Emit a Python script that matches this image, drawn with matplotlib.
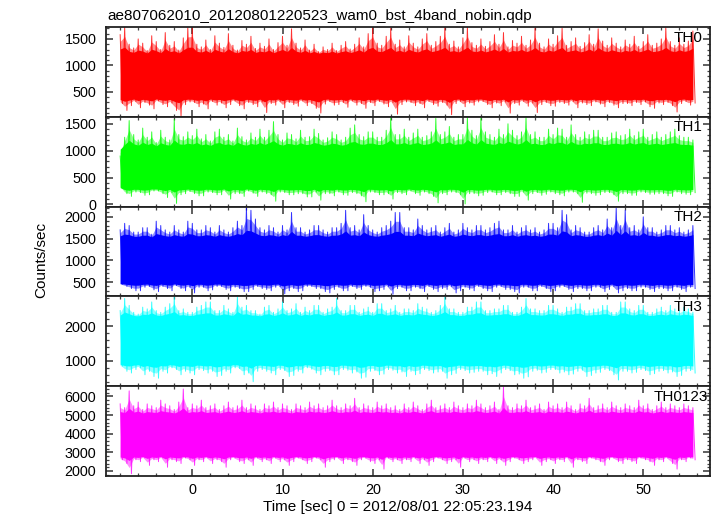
import numpy as np
import matplotlib.pyplot as plt
from matplotlib.ticker import MultipleLocator

plt.rcParams['font.family'] = ['Liberation Sans', 'DejaVu Sans']

title = 'ae807062010_20120801220523_wam0_bst_4band_nobin.qdp'
names = ['TH0', 'TH1', 'TH2', 'TH3', 'TH0123']
colors = ['#ff0000', '#00ff00', '#0000ff', '#00ffff', '#ff00ff']

# half-second bins from -8 to 55.5 sec
t = np.arange(-8, 56, 0.5)

# upper / lower spike tips per half second, and the solid core band (counts/sec)
th0_hi = [1580, 1720, 1400, 1330, 1500, 1420, 1280, 1560, 1450, 1300, 1620, 1380, 1450, 1290, 1520, 1710,
          1720, 1400, 1350, 1480, 1300, 1560, 1420, 1340, 1600, 1380, 1290, 1470, 1400, 1550, 1320, 1420,
          1360, 1500, 1300, 1430, 1550, 1380, 1690, 1420, 1330, 1480, 1290, 1400, 1260, 1350, 1300, 1420,
          1280, 1380, 1450, 1310, 1400, 1520, 1350, 1600, 1710, 1420, 1380, 1550, 1700, 1400, 1480, 1350,
          1560, 1420, 1350, 1500, 1600, 1380, 1450, 1550, 1720, 1400, 1460, 1350, 1520, 1720, 1430, 1380,
          1500, 1360, 1450, 1580, 1400, 1620, 1350, 1470, 1420, 1550, 1380, 1480, 1700, 1420, 1350, 1500,
          1400, 1560, 1700, 1380, 1450, 1520, 1360, 1430, 1580, 1400, 1690, 1460, 1380, 1520, 1420, 1350,
          1480, 1400, 1550, 1360, 1450, 1580, 1380, 1420, 1500, 1710, 1450, 1380, 1520, 1400, 1460, 1650]
th0_lo = [280, 150, 240, 320, 200, 300, 250, 180, 330, 260, 220, 290, 150, 40, 260, 310,
          300, 220, 270, 180, 320, 250, 290, 200, 260, 330, 240, 180, 300, 260, 220, 310,
          110, 280, 250, 320, 200, 300, 260, 230, 330, 240, 280, 190, 100, 270, 320, 250,
          260, 300, 210, 330, 250, 280, 190, 300, 240, 320, 270, 220, 300, 80, 260, 310,
          300, 240, 280, 200, 320, 260, 230, 300, 250, 70, 280, 320, 220, 290, 250, 310,
          320, 260, 200, 290, 240, 310, 100, 280, 250, 320, 230, 290, 110, 260, 300, 240,
          230, 300, 280, 250, 320, 200, 290, 260, 240, 310, 270, 220, 300, 250, 200, 280,
          280, 240, 300, 260, 310, 220, 190, 290, 260, 300, 240, 120, 280, 320, 250, 290]
th0_core = (380, 1220)

th1_hi = [900, 1250, 1560, 1300, 1200, 1420, 1250, 1350, 1150, 1380, 1250, 1200, 1580, 1300, 1260, 1350,
          1280, 1400, 1220, 1300, 1180, 1350, 1400, 1250, 1300, 1180, 1420, 1260, 1200, 1330, 1250, 1400,
          1250, 1380, 1540, 1300, 1200, 1330, 1300, 1220, 1380, 1250, 1260, 1400, 1320, 1200, 1240, 1350,
          1300, 1200, 1250, 1420, 1480, 1300, 1260, 1350, 1350, 1250, 1250, 1380, 1620, 1300, 1300, 1400,
          1250, 1330, 1400, 1250, 1280, 1350, 1600, 1300, 1350, 1450, 1250, 1300, 1300, 1620, 1380, 1280,
          1620, 1350, 1300, 1250, 1400, 1300, 1500, 1380, 1280, 1350, 1620, 1300, 1350, 1250, 1250, 1400,
          1300, 1420, 1400, 1250, 1480, 1300, 1250, 1350, 1300, 1380, 1380, 1250, 1250, 1330, 1350, 1280,
          1300, 1400, 1280, 1350, 1400, 1250, 1300, 1350, 1250, 1300, 1350, 1400, 1280, 1250, 1250, 1200]
th1_lo = [350, 200, 150, 230, 220, 170, 180, 250, 250, 200, 130, 220, 20, 180, 200, 240,
          200, 160, 160, 230, 220, 180, 180, 250, 100, 200, 200, 150, 250, 210, 150, 230,
          200, 180, 60, 230, 220, 180, 180, 200, 200, 140, 140, 230, 80, 200, 200, 160,
          230, 180, 170, 220, 200, 160, 50, 230, 220, 180, 180, 200, 100, 220, 200, 180,
          250, 200, 170, 230, 200, 150, 30, 200, 180, 230, 220, 180, 10, 200, 200, 160,
          170, 220, 230, 180, 180, 220, 200, 150, 150, 230, 80, 200, 220, 170, 190, 230,
          200, 180, 160, 230, 230, 200, 40, 210, 200, 170, 180, 220, 220, 180, 60, 200,
          200, 170, 170, 230, 220, 190, 190, 200, 200, 160, 150, 230, 200, 190, 180, 220]
th1_core = (300, 1070)

th2_hi = [1700, 1850, 1800, 1650, 1650, 1750, 1750, 1600, 1900, 1800, 1700, 1650, 1800, 1700, 1650, 1900,
          1850, 1700, 1700, 1800, 1750, 1650, 1800, 1700, 1650, 1750, 1900, 1800, 2200, 2150, 1950, 1750,
          1700, 1800, 1750, 1650, 1800, 1700, 2100, 1750, 1750, 1650, 1700, 1800, 1800, 1700, 1650, 1750,
          1750, 1850, 2150, 1750, 1800, 1700, 2050, 1800, 1700, 1650, 1750, 1800, 1900, 2100, 2100, 1750,
          1750, 1700, 1950, 1800, 1700, 1750, 1800, 1650, 1750, 1850, 1650, 1700, 1850, 1750, 1700, 1800,
          1800, 1700, 1750, 1850, 1900, 1700, 1700, 1800, 1650, 1750, 1800, 1700, 1750, 1650, 1700, 1850,
          1850, 1750, 2150, 2050, 1700, 1800, 1750, 1650, 1650, 1750, 1800, 1700, 1950, 1750, 2200, 1800,
          2150, 1750, 1800, 1700, 2000, 1750, 1750, 1650, 1700, 1800, 1800, 1700, 1750, 1650, 1700, 1800]
th2_lo = [450, 400, 350, 300, 300, 380, 400, 320, 280, 400, 350, 300, 420, 350, 300, 380,
          250, 380, 380, 300, 320, 400, 400, 330, 300, 380, 350, 280, 280, 330, 400, 350,
          330, 300, 380, 400, 230, 300, 350, 280, 300, 400, 400, 350, 350, 280, 250, 330,
          380, 300, 300, 400, 350, 330, 400, 380, 280, 300, 330, 400, 220, 350, 380, 300,
          300, 380, 350, 280, 400, 330, 280, 350, 330, 400, 250, 300, 380, 330, 300, 400,
          350, 300, 280, 380, 400, 330, 330, 280, 250, 380, 380, 300, 300, 400, 350, 280,
          300, 380, 400, 330, 280, 350, 350, 300, 300, 380, 380, 280, 330, 400, 250, 300,
          350, 300, 300, 380, 380, 330, 280, 350, 350, 300, 300, 380, 330, 280, 380, 350]
th2_core = (470, 1520)

th3_hi = [2450, 2800, 2600, 2400, 2350, 2550, 2500, 2700, 2450, 2400, 2550, 2650, 2850, 2450, 2500, 2400,
          2400, 2550, 2600, 2700, 2700, 2450, 2450, 2600, 2500, 2400, 2850, 2550, 2600, 2450, 2450, 2350,
          2550, 2600, 2400, 2500, 2700, 2450, 2500, 2650, 2400, 2550, 2450, 2600, 2600, 2400, 2500, 2550,
          2800, 2450, 2450, 2600, 2600, 2400, 2500, 2550, 2400, 2650, 2650, 2450, 2500, 2600, 2400, 2500,
          2500, 2450, 2650, 2550, 2500, 2400, 2450, 2600, 2850, 2500, 2500, 2400, 2400, 2550, 2550, 2700,
          2700, 2450, 2450, 2500, 2500, 2600, 2600, 2400, 2400, 2550, 2800, 2500, 2500, 2450, 2450, 2600,
          2600, 2500, 2400, 2550, 2550, 2650, 2650, 2450, 2450, 2500, 2500, 2600, 2600, 2400, 2400, 2700,
          2700, 2500, 2450, 2600, 2600, 2400, 2400, 2500, 2550, 2450, 2600, 2500, 2450, 2550, 2500, 2400]
th3_lo = [850, 700, 650, 750, 800, 600, 700, 550, 500, 700, 650, 800, 750, 600, 700, 650,
          600, 750, 720, 650, 700, 550, 580, 700, 650, 800, 780, 600, 650, 400, 700, 750,
          700, 650, 600, 750, 720, 550, 580, 700, 650, 800, 760, 650, 600, 700, 720, 600,
          600, 750, 730, 650, 680, 500, 530, 700, 720, 600, 620, 750, 730, 650, 680, 550,
          700, 600, 630, 750, 720, 650, 680, 700, 500, 600, 640, 750, 720, 650, 670, 700,
          700, 600, 630, 550, 650, 750, 720, 600, 620, 500, 540, 700, 730, 650, 670, 750,
          750, 650, 680, 600, 620, 700, 730, 550, 580, 650, 670, 750, 720, 600, 450, 700,
          700, 650, 670, 750, 720, 600, 630, 700, 720, 650, 680, 550, 580, 700, 720, 650]
th3_core = (920, 2280)

th0123_hi = [5600, 5400, 6300, 5500, 5700, 5300, 5600, 5500, 5400, 5800, 5600, 5500, 5300, 5700, 6400, 5400,
             5600, 5500, 5800, 5400, 5500, 5600, 5300, 5500, 5700, 5400, 5500, 5800, 5400, 5600, 5500, 5300,
             5600, 5500, 5700, 5400, 5600, 5500, 5300, 5600, 5500, 5400, 5700, 5500, 5600, 5400, 5500, 5800,
             5500, 5400, 5600, 5500, 5900, 5400, 5600, 5500, 5400, 5700, 5500, 5600, 5400, 5500, 5300, 5600,
             5400, 5700, 5500, 5300, 5600, 5800, 5400, 5500, 5600, 5400, 5700, 5500, 5400, 5600, 5500, 5800,
             5600, 5400, 5500, 5700, 5300, 6500, 5500, 5400, 5600, 5500, 5800, 5400, 5500, 5600, 5300, 5700,
             5500, 5600, 5400, 5700, 5500, 5300, 5600, 5500, 5900, 5400, 5500, 5600, 5400, 5700, 5500, 5400,
             5600, 5500, 5400, 5800, 5500, 5600, 5300, 5500, 5700, 5400, 5600, 5500, 5400, 5600, 5500, 5400]
th0123_lo = [2600, 2400, 1850, 2600, 2500, 2700, 2300, 2600, 2500, 2700, 2200, 2600, 2500, 2400, 2700, 2600,
             2300, 2600, 2500, 2700, 2400, 2600, 2500, 2200, 2600, 2700, 2500, 2400, 2600, 2300, 2700, 2500,
             2600, 2400, 2700, 2500, 2600, 2300, 2500, 2700, 2600, 2400, 2500, 2700, 2600, 2200, 2500, 2600,
             2700, 2400, 2600, 2500, 2300, 2600, 2700, 2500, 2400, 2600, 2100, 2700, 2500, 2600, 2400, 2600,
             2500, 2700, 2400, 2600, 2300, 2500, 2700, 2600, 2400, 2500, 2600, 2200, 2700, 2500, 2600, 2400,
             2600, 2500, 2700, 2400, 2600, 2300, 2500, 2700, 2600, 2400, 2500, 2600, 2700, 2300, 2500, 2600,
             2400, 2600, 2500, 2700, 2200, 2600, 2500, 2400, 2700, 2600, 2500, 2300, 2600, 2700, 2500, 2400,
             2600, 2500, 2400, 2700, 2600, 2500, 2300, 2600, 2500, 2700, 2400, 2100, 2600, 2500, 2700, 2600]
th0123_core = (2800, 5050)

his = [th0_hi, th1_hi, th2_hi, th3_hi, th0123_hi]
los = [th0_lo, th1_lo, th2_lo, th3_lo, th0123_lo]
cores = [th0_core, th1_core, th2_core, th3_core, th0123_core]

ylims = [(30, 1725), (-40, 1630), (170, 2235), (270, 2860), (1730, 6550)]
ymajor = [500, 500, 500, 1000, 1000]
yminor = [100, 100, 100, 200, 200]

W, H = 717, 516
fig = plt.figure(figsize=(W / 100, H / 100), dpi=100)

edges = [27, 116.8, 206.6, 296.4, 386.2, 476]
left, right = 106, 710
label_x = [702, 702, 702, 702, 708]

for i in range(5):
    top, bot = edges[i], edges[i + 1]
    ax = fig.add_axes([left / W, 1 - bot / H, (right - left) / W, (bot - top) / H])
    c = colors[i]
    hi = np.array(his[i])
    lo = np.array(los[i])
    c_lo, c_hi = cores[i]

    # lighter fringe between the core and the spike tips
    ax.fill_between(t, c_lo - 0.65 * (c_lo - lo), c_hi + 0.65 * (hi - c_hi),
                    color=c, alpha=0.45, lw=0)
    # solid core
    ax.fill_between(t, c_lo - 0.25 * (c_lo - lo), c_hi + 0.25 * (hi - c_hi),
                    color=c, lw=0)
    # zig-zag between tips
    xs = np.ravel(np.column_stack([t, t + 0.25]))
    ys = np.ravel(np.column_stack([hi, lo]))
    ax.plot(xs, ys, color=c, lw=0.7, alpha=0.8)

    ax.set_xlim(-9.57, 57.4)
    ax.set_ylim(*ylims[i])
    ax.xaxis.set_major_locator(MultipleLocator(10))
    ax.xaxis.set_minor_locator(MultipleLocator(2))
    ax.yaxis.set_major_locator(MultipleLocator(ymajor[i]))
    ax.yaxis.set_minor_locator(MultipleLocator(yminor[i]))
    ax.tick_params(which='both', direction='in', top=True, right=True, color='#444444',
                   labelsize=10.4)
    ax.tick_params(which='major', length=5, width=1.2)
    ax.tick_params(which='minor', length=2.5, width=0.9)
    ax.tick_params(axis='y', pad=7)
    ax.tick_params(axis='x', pad=5)
    for s in ax.spines.values():
        s.set_linewidth(1.3)
        s.set_color('#222222')
    if i < 4:
        ax.tick_params(labelbottom=False)
    fig.text(label_x[i] / W, 1 - (top + 10.5) / H, names[i], ha='right', va='center', fontsize=11)

fig.text(107 / W, 1 - 20 / H, title, ha='left', va='baseline', fontsize=11)
fig.text(398 / W, 1 - 507 / H, 'Time [sec] 0 = 2012/08/01 22:05:23.194', ha='center', va='center', fontsize=11)
fig.text(41 / W, 1 - 260 / H, 'Counts/sec', ha='center', va='center', rotation=90, fontsize=11)

fig.savefig('out.png', dpi=100)
